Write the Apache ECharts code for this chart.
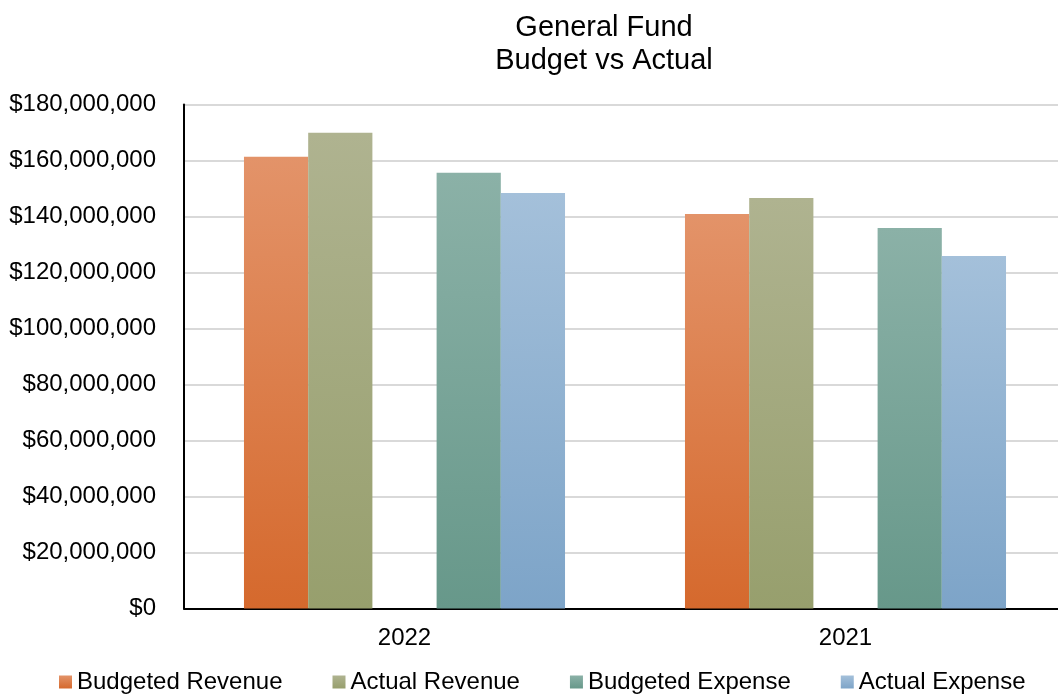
<!DOCTYPE html>
<html>
<head>
<meta charset="utf-8">
<title>General Fund Budget vs Actual</title>
<script src="https://cdn.jsdelivr.net/npm/echarts@6/dist/echarts.min.js"></script>
<style>
  html, body { margin: 0; padding: 0; background: #ffffff; overflow: hidden; }
  /* the plot runs a little past the right edge of the page, so the canvas is wider than the window */
  #chart { width: 1066px; height: 694px; }
</style>
</head>
<body>
<div id="chart"></div>
<script>
// Fiscal years shown on the category axis
const years = ['2022', '2021'];

// Dollar amounts per fiscal year
const budgetedRevenue = [161300000, 140900000];
const actualRevenue   = [169900000, 146600000];
const budgetedExpense = [155600000, 135900000];
const actualExpense   = [148400000, 125900000];

// Value axis range and step
const axisMin = 0;
const axisMax = 180000000;
const axisStep = 20000000;

const FONT = '"Liberation Sans", Arial, sans-serif';

function grad(top, bottom) {
  return new echarts.graphic.LinearGradient(0, 0, 0, 1, [
    { offset: 0, color: top },
    { offset: 1, color: bottom }
  ]);
}

function money(v) {
  return '$' + Number(v).toLocaleString('en-US');
}

function barSeries(name, data, top, bottom) {
  return {
    name: name,
    type: 'bar',
    data: data,
    barGap: '0%',
    barCategoryGap: '27.2%',
    itemStyle: { color: grad(top, bottom) }
  };
}

const chart = echarts.init(document.getElementById('chart'), null, { renderer: 'canvas' });

chart.setOption({
  animation: false,
  backgroundColor: '#ffffff',
  textStyle: { fontFamily: FONT },
  title: {
    text: 'General Fund\nBudget vs Actual',
    left: 599,
    top: 6,
    textAlign: 'center',
    textStyle: {
      fontFamily: FONT,
      fontSize: 29,
      fontWeight: 'normal',
      color: '#000000',
      lineHeight: 33
    }
  },
  legend: {
    data: ['Budgeted Revenue', 'Actual Revenue', 'Budgeted Expense', 'Actual Expense'],
    left: 59,
    top: 670,
    padding: 0,
    itemWidth: 13,
    itemHeight: 13,
    itemGap: 50,
    icon: 'rect',
    textStyle: { fontFamily: FONT, fontSize: 24, color: '#000000' }
  },
  grid: {
    left: 184,
    top: 104.5,
    right: 0,
    height: 504,
    containLabel: false
  },
  xAxis: {
    type: 'category',
    data: years,
    axisLine: { show: true, lineStyle: { color: '#000000', width: 2 } },
    axisTick: { show: false },
    axisLabel: { fontFamily: FONT, fontSize: 24, color: '#000000', margin: 18 },
    splitLine: { show: false }
  },
  yAxis: {
    type: 'value',
    min: axisMin,
    max: axisMax,
    interval: axisStep,
    axisLine: { show: true, lineStyle: { color: '#000000', width: 2 } },
    axisTick: { show: false },
    axisLabel: {
      fontFamily: FONT,
      fontSize: 24,
      color: '#000000',
      margin: 28,
      formatter: money
    },
    splitLine: { show: true, lineStyle: { color: '#d9d9d9', width: 2 } }
  },
  series: [
    barSeries('Budgeted Revenue', budgetedRevenue, '#e39369', '#d5692d'),
    barSeries('Actual Revenue', actualRevenue, '#afb390', '#979f6d'),
    // empty slot that separates revenue bars from expense bars
    {
      name: 'spacer',
      type: 'bar',
      data: years.map(() => null),
      barGap: '0%',
      barCategoryGap: '27.2%',
      silent: true
    },
    barSeries('Budgeted Expense', budgetedExpense, '#8bb1a7', '#67988a'),
    barSeries('Actual Expense', actualExpense, '#a4c0da', '#7da4c8')
  ]
});
</script>
</body>
</html>
